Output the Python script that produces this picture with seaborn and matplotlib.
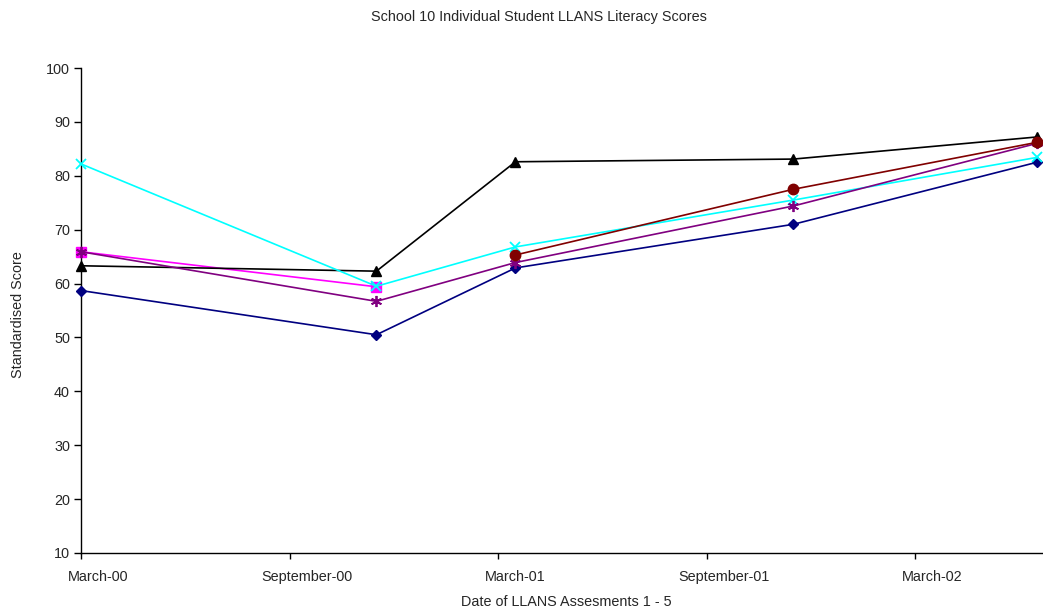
import numpy as np
import pandas as pd
import matplotlib
matplotlib.use("Agg")
import matplotlib.pyplot as plt
import seaborn as sns

# x positions in months after March 2000
months = [0, 8.5, 12.5, 20.5, 27.5]
tick_pos = [0, 6, 12, 18, 24]
tick_labels = ["March-00", "September-00", "March-01", "September-01", "March-02"]

s_navy = [58.7, 50.5, 62.9, 71.0, 82.5]
s_magenta = [65.9, 59.4, np.nan, np.nan, np.nan]
s_black = [63.3, 62.3, 82.6, 83.1, 87.2]
s_cyan = [82.2, 59.5, 66.8, 75.5, 83.4]
s_purple = [65.9, 56.7, 63.9, 74.4, 86.0]
s_darkred = [np.nan, np.nan, 65.3, 77.5, 86.2]

series = [
    (s_navy, "#000080", "D", 5.5, 1.0),
    (s_magenta, "#FF00FF", "s", 6.5, 1.0),
    (s_black, "#000000", "^", 7, 1.0),
    (s_cyan, "#00FFFF", "x", 7, 1.3),
    (s_purple, "#800080", (6, 2, 0), 8, 1.3),
    (s_darkred, "#800000", "o", 7.5, 1.0),
]

sns.set_style("white")
plt.rcParams["font.family"] = ["Liberation Sans", "DejaVu Sans"]

fig = plt.figure(figsize=(10.43, 6.09), dpi=100)
ax = fig.add_axes([81 / 1043, 1 - 553 / 609, (1042 - 81) / 1043, (553 - 68) / 609])

for vals, color, mk, ms, mew in series:
    df = pd.DataFrame({"x": months, "y": vals}).dropna()
    sns.lineplot(data=df, x="x", y="y", ax=ax, color=color, marker=mk,
                 markersize=ms, markeredgecolor=color, markerfacecolor=color,
                 markeredgewidth=mew, linewidth=1.2, estimator=None, sort=False,
                 clip_on=False, zorder=3)

ax.set_xlim(0, 27.65)
ax.set_ylim(10, 100)
ax.set_yticks(range(10, 101, 10))
ax.set_xticks(tick_pos)
ax.set_xticklabels([])
ax.set_xticks([p + 0.5 for p in tick_pos], minor=True)
ax.set_xticklabels(tick_labels, minor=True)
ax.tick_params(axis="x", which="minor", length=0, pad=12, labelsize=10.4)
ax.tick_params(axis="x", which="major", length=4, width=1, direction="out", color="black", bottom=True)
ax.tick_params(axis="y", length=5, width=1, direction="out", color="black", left=True, labelsize=10.4, pad=3)

for side in ["top", "right"]:
    ax.spines[side].set_visible(False)
for side in ["left", "bottom"]:
    ax.spines[side].set_color("black")
    ax.spines[side].set_linewidth(1.0)

ax.set_xlabel("")
ax.set_ylabel("")
fig.text(566 / 1043, 1 - 602 / 609, "Date of LLANS Assesments 1 - 5", ha="center", va="center", fontsize=10.4)
fig.text(18 / 1043, 1 - 315 / 609, "Standardised Score", ha="center", va="center", rotation=90, fontsize=10.4)
fig.text(539 / 1043, 1 - 17 / 609, "School 10 Individual Student LLANS Literacy Scores", ha="center", va="center", fontsize=10.4)

fig.savefig("out.png", dpi=100)
